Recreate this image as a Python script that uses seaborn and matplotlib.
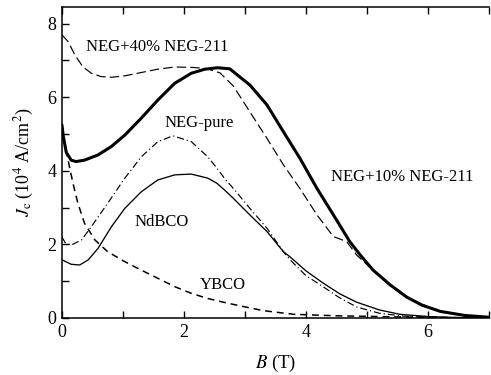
import matplotlib
matplotlib.use("Agg")
import matplotlib.pyplot as plt
import seaborn as sns
import pandas as pd
from matplotlib.ticker import MultipleLocator

# ---- data ----
B_10 = [0, 0.02, 0.07, 0.15, 0.23, 0.37, 0.59, 0.81, 1.03, 1.3, 1.57, 1.85, 2.12, 2.34, 2.55, 2.75, 3.08, 3.36, 3.63, 3.9, 4.18, 4.45, 4.72, 4.89, 5.1, 5.38, 5.65, 5.9, 6.2, 6.6, 7.0]
J_10 = [5.24, 4.95, 4.5, 4.29, 4.25, 4.29, 4.43, 4.66, 4.97, 5.43, 5.92, 6.38, 6.65, 6.76, 6.8, 6.77, 6.33, 5.79, 5.06, 4.34, 3.52, 2.8, 2.07, 1.71, 1.3, 0.9, 0.57, 0.35, 0.18, 0.07, 0.02]

B_40 = [0, 0.1, 0.21, 0.34, 0.48, 0.64, 0.81, 1.03, 1.3, 1.57, 1.85, 2.12, 2.28, 2.42, 2.59, 2.81, 3.08, 3.36, 3.63, 3.9, 4.18, 4.45, 4.55, 4.67, 4.83, 5.1, 5.38, 5.65, 6.2, 6.6, 7.0]
J_40 = [7.69, 7.51, 7.15, 6.83, 6.65, 6.56, 6.54, 6.58, 6.67, 6.76, 6.82, 6.81, 6.79, 6.75, 6.66, 6.3, 5.6, 4.88, 4.16, 3.52, 2.8, 2.21, 2.15, 2.07, 1.71, 1.3, 0.88, 0.55, 0.17, 0.06, 0.02]

B_pure = [0, 0.05, 0.15, 0.32, 0.48, 0.75, 1.03, 1.3, 1.57, 1.82, 2.12, 2.39, 2.54, 2.67, 2.81, 3.08, 3.36, 3.63, 3.74, 4.0, 4.28, 4.55, 4.83, 5.2, 5.6, 6.2, 7.0]
J_pure = [2.2, 2.05, 1.98, 2.12, 2.48, 3.12, 3.8, 4.38, 4.79, 4.95, 4.79, 4.38, 4.07, 3.78, 3.52, 2.98, 2.44, 1.8, 1.58, 1.15, 0.85, 0.55, 0.3, 0.13, 0.05, 0.01, 0.0]

B_nd = [0, 0.15, 0.29, 0.43, 0.59, 0.81, 1.03, 1.3, 1.57, 1.85, 2.12, 2.39, 2.54, 2.67, 2.81, 3.08, 3.36, 3.63, 3.74, 4.0, 4.28, 4.55, 4.83, 5.2, 5.54, 6.0, 6.5, 7.0]
J_nd = [1.58, 1.46, 1.44, 1.58, 1.89, 2.48, 2.98, 3.43, 3.75, 3.89, 3.91, 3.8, 3.66, 3.47, 3.25, 2.8, 2.35, 1.8, 1.66, 1.28, 0.95, 0.66, 0.43, 0.22, 0.1, 0.04, 0.01, 0.0]

B_y = [0, 0.04, 0.1, 0.18, 0.26, 0.37, 0.54, 0.75, 1.03, 1.3, 1.57, 1.85, 2.12, 2.39, 2.67, 2.92, 3.3, 3.8, 4.5, 5.5, 7.0]
J_y = [5.2, 4.8, 4.29, 3.66, 3.12, 2.57, 2.12, 1.8, 1.53, 1.3, 1.08, 0.85, 0.67, 0.53, 0.42, 0.33, 0.2, 0.1, 0.06, 0.03, 0.0]

x_ticks = [0, 2, 4, 6]
y_ticks = [0, 2, 4, 6, 8]

sns.set_style("ticks", rc={'axes.labelcolor': 'black', 'xtick.color': 'black',
                           'ytick.color': 'black', 'text.color': 'black',
                           'axes.edgecolor': 'black'})
plt.rcParams['font.family'] = ['Liberation Serif', 'DejaVu Serif']
plt.rcParams['mathtext.fontset'] = 'stix'

fig = plt.figure(figsize=(4.91, 3.75), dpi=100)
ax = fig.add_axes([62/491, 57/375, 427/491, 311/375])

def draw(B, J, **kw):
    df = pd.DataFrame({"B": B, "J": J})
    sns.lineplot(data=df, x="B", y="J", ax=ax, sort=False, estimator=None, color="black", **kw)

draw(B_y, J_y, lw=1.1, linestyle=(0, (4.5, 3.2)))
draw(B_nd, J_nd, lw=0.95)
draw(B_pure, J_pure, lw=0.85, linestyle=(0, (6, 2.5, 1, 2.5)))
draw(B_40, J_40, lw=0.85, linestyle=(0, (8, 3.5)))
draw(B_10, J_10, lw=2.2)

ax.set_xlim(0, 7)
ax.set_ylim(0, 8.45)
ax.set_xticks(x_ticks)
ax.set_yticks(y_ticks)
ax.xaxis.set_minor_locator(MultipleLocator(1))
ax.yaxis.set_minor_locator(MultipleLocator(1))
ax.tick_params(which='both', direction='in', top=True, right=False, length=5, width=1, labelsize=13, pad=4)
for s in ['left', 'bottom', 'top']:
    ax.spines[s].set_linewidth(1.1)
ax.spines['right'].set_visible(False)

ax.set_xlabel(r"$B$ (T)", fontsize=13.5, labelpad=9)
ax.set_ylabel(r"$J_\mathrm{c}$ (10$^4$ A/cm$^2$)", fontsize=13, labelpad=8)

fs = 12
ax.text(1.56, 7.36, "NEG+40% NEG-211", ha='center', va='center', fontsize=fs)
ax.text(2.25, 5.3, "NEG-pure", ha='center', va='center', fontsize=fs)
ax.text(5.57, 3.83, "NEG+10% NEG-211", ha='center', va='center', fontsize=fs)
ax.text(1.64, 2.6, "NdBCO", ha='center', va='center', fontsize=fs)
ax.text(2.64, 0.9, "YBCO", ha='center', va='center', fontsize=fs)

fig.savefig("out.png", dpi=100)
